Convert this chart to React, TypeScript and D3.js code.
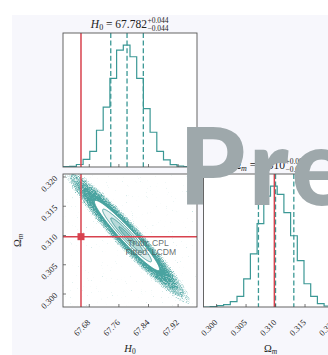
import React from 'react';
import * as d3 from 'd3';

// posterior summary
const h0Range = [67.609, 67.971];
const omRange = [0.29778, 0.32051];
const h0Counts = [0.3, 0.6, 2.5, 7.5, 15.5, 36.5, 59.5, 88, 116, 121, 109.5, 88, 58, 34.5, 15.5, 7, 2.3, 0.8, 0.3, 0];
const omCounts = [0, 0.3, 1.3, 2.4, 5.5, 10.7, 28.4, 53.4, 84, 111.7, 121.7, 113.4, 95, 71.7, 46.7, 23.4, 10.7, 3.4, 1, 0.3];
const h0Quantiles = [67.738, 67.782, 67.826];
const omQuantiles = [0.3071, 0.31, 0.3131];
const truth = [67.6576, 0.3098];
const fitMean = [67.782, 0.31];
const fitSigma = [0.044, 0.003];
const fitRho = -0.96;
const contourLevels = [2, 1.5, 1, 0.5];
const haloLevels = [3.9, 3.5, 3.1, 2.7, 2.35];
const h0Ticks = [67.68, 67.76, 67.84, 67.92];
const omTicks = [0.3, 0.305, 0.31, 0.315, 0.32];
const legendLabels = ['Truth: CPL', 'Fitted: LCDM'];

const TEAL = '#3b9895';
const HALO = '#4aa3a0';
const RED = '#d8424e';
const FRAME = '#555';
const SERIF = '"Liberation Serif", "DejaVu Serif", serif';

const P1 = { x: 63, y: 33, w: 134, h: 134 };
const P2 = { x: 63, y: 174, w: 134, h: 133 };
const P3 = { x: 203.5, y: 174, w: 134, h: 133 };

const xH = d3.scaleLinear().domain(h0Range).range([P2.x, P2.x + P2.w]);
const yOm = d3.scaleLinear().domain(omRange).range([P2.y + P2.h, P2.y]);
const xOm = d3.scaleLinear().domain(omRange).range([P3.x, P3.x + P3.w]);
const yH1 = d3.scaleLinear().domain([0, 1.1 * d3.max(h0Counts)!]).range([P1.y + P1.h, P1.y]);
const yOm1 = d3.scaleLinear().domain([0, 1.1 * d3.max(omCounts)!]).range([P3.y + P3.h, P3.y]);

const stepLine = d3.line<[number, number]>().curve(d3.curveStepAfter);

function histPath(counts: number[], range: number[], x: d3.ScaleLinear<number, number>, y: d3.ScaleLinear<number, number>) {
  const n = counts.length;
  const edges = d3.range(n + 1).map(i => range[0] + (i * (range[1] - range[0])) / n);
  const pts: [number, number][] = [[x(edges[0]), y(0)]];
  counts.forEach((c, i) => pts.push([x(edges[i]), y(c)]));
  pts.push([x(edges[n]), y(0)]);
  return stepLine(pts)!;
}

// Mahalanobis-radius ellipse of the fitted 2D gaussian
function ellipsePath(r: number) {
  const s = Math.sqrt(1 - fitRho * fitRho);
  const pts: [number, number][] = d3.range(0, 2 * Math.PI, Math.PI / 90).map(t => [
    xH(fitMean[0] + r * fitSigma[0] * Math.cos(t)),
    yOm(fitMean[1] + r * fitSigma[1] * (fitRho * Math.cos(t) + s * Math.sin(t))),
  ]);
  return d3.line().curve(d3.curveLinearClosed)(pts)!;
}

const Frame = ({ p }: { p: typeof P1 }) => (
  <rect x={p.x} y={p.y} width={p.w} height={p.h} fill="none" stroke={FRAME} strokeWidth={0.9} />
);

export default function App() {
  const bottom = P2.y + P2.h;
  return (
    <svg width={328} height={355} style={{ position: 'absolute', left: 0, top: 0 }}>
      <defs>
        <clipPath id="c1"><rect x={P1.x} y={P1.y} width={P1.w} height={P1.h} /></clipPath>
        <clipPath id="c2"><rect x={P2.x} y={P2.y} width={P2.w} height={P2.h} /></clipPath>
        <clipPath id="c3"><rect x={P3.x} y={P3.y} width={P3.w} height={P3.h} /></clipPath>
        <filter id="speck" filterUnits="userSpaceOnUse" x={P2.x} y={P2.y} width={P2.w} height={P2.h}>
          <feTurbulence type="fractalNoise" baseFrequency="1.2" numOctaves={2} seed={7} result="n" />
          <feColorMatrix in="n" type="matrix" values="0 0 0 0 0  0 0 0 0 0  0 0 0 0 0  1 0 0 0 0" result="na" />
          <feComposite in="SourceAlpha" in2="na" operator="arithmetic" k1={0} k2={2.5} k3={1.8} k4={-1.3} result="m" />
          <feFlood floodColor={HALO} />
          <feComposite in2="m" operator="in" />
        </filter>
      </defs>
      <rect x={0} y={0} width={328} height={355} fill="#fff" />
      <rect x={12} y={15} width={316} height={340} fill="#f7f7fc" />

      {/* H0 marginal */}
      <rect x={P1.x} y={P1.y} width={P1.w} height={P1.h} fill="#fff" />
      <g clipPath="url(#c1)">
        <path d={histPath(h0Counts, h0Range, xH, yH1)} fill="none" stroke={TEAL} strokeWidth={1.2} />
        {h0Quantiles.map((q, i) => (
          <line key={i} x1={xH(q)} x2={xH(q)} y1={P1.y} y2={P1.y + P1.h} stroke={TEAL} strokeWidth={1.3} strokeDasharray="5,2.6" />
        ))}
        <line x1={xH(truth[0])} x2={xH(truth[0])} y1={P1.y} y2={P1.y + P1.h} stroke={RED} strokeWidth={1.5} />
      </g>
      {h0Ticks.map(t => (
        <line key={t} x1={xH(t)} x2={xH(t)} y1={P1.y + P1.h} y2={P1.y + P1.h - 3} stroke={FRAME} strokeWidth={0.8} />
      ))}
      <Frame p={P1} />

      {/* joint posterior */}
      <rect x={P2.x} y={P2.y} width={P2.w} height={P2.h} fill="#fff" />
      <g clipPath="url(#c2)">
        <g filter="url(#speck)">
          {haloLevels.map(r => (
            <path key={r} d={ellipsePath(r)} fill={TEAL} fillOpacity={0.2} />
          ))}
        </g>
        <path d={ellipsePath(2)} fill="#fff" />
        {contourLevels.slice(1).map((r, i) => (
          <path key={r} d={ellipsePath(r)} fill={TEAL} fillOpacity={0.16 + 0.08 * i} />
        ))}
        {contourLevels.map(r => (
          <path key={r} d={ellipsePath(r)} fill="none" stroke={TEAL} strokeWidth={0.9} />
        ))}
        <line x1={xH(truth[0])} x2={xH(truth[0])} y1={P2.y} y2={bottom} stroke={RED} strokeWidth={1.5} />
        <line x1={P2.x} x2={P2.x + P2.w} y1={yOm(truth[1])} y2={yOm(truth[1])} stroke={RED} strokeWidth={1.5} />
        <rect x={xH(truth[0]) - 3.5} y={yOm(truth[1]) - 3.5} width={7} height={7} fill={RED} />
        {legendLabels.map((l, i) => (
          <text key={l} x={127.5 - i * 2} y={245.5 + i * 9.8} fontFamily='"Liberation Sans", Arial, sans-serif' fontSize={8.6} fill="#556060" fillOpacity={0.9}>{l}</text>
        ))}
      </g>
      {h0Ticks.map(t => (
        <line key={t} x1={xH(t)} x2={xH(t)} y1={bottom} y2={bottom - 3} stroke={FRAME} strokeWidth={0.8} />
      ))}
      {omTicks.map(t => (
        <line key={t} x1={P2.x} x2={P2.x + 3} y1={yOm(t)} y2={yOm(t)} stroke={FRAME} strokeWidth={0.8} />
      ))}
      <Frame p={P2} />

      {/* Omega_m marginal */}
      <rect x={P3.x} y={P3.y} width={P3.w} height={P3.h} fill="#fff" />
      <g clipPath="url(#c3)">
        <path d={histPath(omCounts, omRange, xOm, yOm1)} fill="none" stroke={TEAL} strokeWidth={1.2} />
        {omQuantiles.map((q, i) => (
          <line key={i} x1={xOm(q)} x2={xOm(q)} y1={P3.y} y2={bottom} stroke={TEAL} strokeWidth={1.3} strokeDasharray="5,2.6" />
        ))}
        <line x1={xOm(truth[1])} x2={xOm(truth[1])} y1={P3.y} y2={bottom} stroke={RED} strokeWidth={1.5} />
      </g>
      {omTicks.map(t => (
        <line key={t} x1={xOm(t)} x2={xOm(t)} y1={bottom} y2={bottom - 3} stroke={FRAME} strokeWidth={0.8} />
      ))}
      <Frame p={P3} />

      {/* tick labels */}
      <g fontFamily={SERIF} fontSize={8.5} fill="#222">
        {h0Ticks.map(t => (
          <text key={t} transform={`translate(${xH(t) + 1.5},${bottom + 16}) rotate(-45)`} textAnchor="end">{t.toFixed(2)}</text>
        ))}
        {omTicks.map(t => (
          <text key={t} transform={`translate(${xOm(t) + 1.5},${bottom + 16}) rotate(-45)`} textAnchor="end">{t.toFixed(3)}</text>
        ))}
        {omTicks.map(t => (
          <text key={'y' + t} transform={`translate(${P2.x - 5},${yOm(t) + 2}) rotate(-45)`} textAnchor="end">{t.toFixed(3)}</text>
        ))}
      </g>

      {/* axis labels */}
      <text x={P2.x + P2.w / 2} y={352} textAnchor="middle" fontFamily={SERIF} fontSize={10.5} fill="#222">
        <tspan fontStyle="italic">H</tspan><tspan fontSize={7.5} dy={2}>0</tspan>
      </text>
      <text x={P3.x + P3.w / 2} y={352} textAnchor="middle" fontFamily={SERIF} fontSize={10.5} fill="#222">
        Ω<tspan fontSize={7.5} fontStyle="italic" dy={2}>m</tspan>
      </text>
      <text transform={`translate(21,${P2.y + P2.h / 2}) rotate(-90)`} textAnchor="middle" fontFamily={SERIF} fontSize={10.5} fill="#222">
        Ω<tspan fontSize={7.5} fontStyle="italic" dy={2}>m</tspan>
      </text>

      {/* titles */}
      <g fontFamily={SERIF} fill="#222">
        <text x={147} y={28} textAnchor="end" fontSize={11.5}>
          <tspan fontStyle="italic">H</tspan><tspan fontSize={8} dy={2}>0</tspan><tspan dy={-2}>{` = ${fitMean[0].toFixed(3)}`}</tspan>
        </text>
        <text x={147.5} y={22.5} fontSize={7.5}>+{(h0Quantiles[2] - h0Quantiles[1]).toFixed(3)}</text>
        <text x={147.5} y={31} fontSize={7.5}>−{(h0Quantiles[1] - h0Quantiles[0]).toFixed(3)}</text>
        <text x={285} y={169} textAnchor="end" fontSize={11.5}>
          Ω<tspan fontSize={8} fontStyle="italic" dy={2}>m</tspan><tspan dy={-2}>{` = ${fitMean[1].toFixed(3)}`}</tspan>
        </text>
        <text x={285.5} y={163.5} fontSize={7.5}>+0.003</text>
        <text x={285.5} y={172} fontSize={7.5}>−0.003</text>
      </g>

      {/* watermark */}
      <text x={179} y={205} fontFamily="Lato, Roboto, sans-serif" fontWeight={900} fontSize={106} letterSpacing={4} fill="#9ea8ab">Preview</text>
    </svg>
  );
}
